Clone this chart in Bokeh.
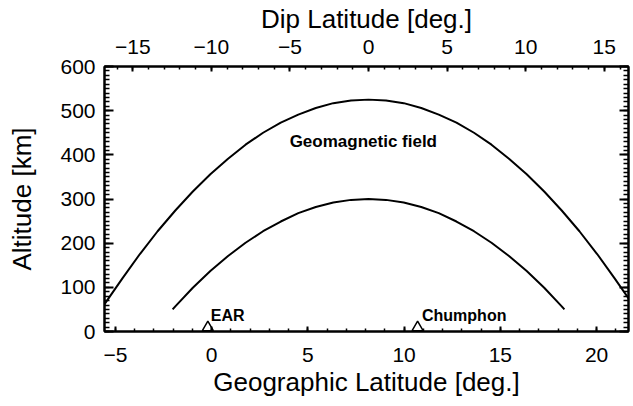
from bokeh.plotting import figure
from bokeh.models import Range1d, LinearAxis, SingleIntervalTicker, CustomJSTickFormatter, Label
from bokeh.embed import file_html
from bokeh.resources import INLINE

# Field line 1 (outer): geographic latitude [deg], altitude [km]
outer_lat = [-6.46, -5.55, -4.63, -3.72, -2.81, -1.89, -0.98, -0.07, 0.85, 1.76, 2.67,
             3.59, 4.50, 5.41, 6.32, 7.24, 8.15, 9.06, 9.98, 10.89, 11.80, 12.72,
             13.63, 14.54, 15.45, 16.37, 17.28, 18.19, 19.11, 20.02, 20.93, 21.85, 22.76]
outer_alt = [1, 63, 121, 176, 227, 274, 317, 356, 391, 423, 450,
             473, 491, 506, 517, 523, 525, 523, 517, 506, 491, 473,
             450, 423, 391, 356, 317, 274, 227, 176, 121, 63, 1]

# Field line 2 (inner)
inner_lat = [-2.03, -1.89, -0.98, -0.07, 0.85, 1.76, 2.67, 3.59, 4.50, 5.41, 6.32, 7.24,
             8.15, 9.06, 9.98, 10.89, 11.80, 12.72, 13.63, 14.54, 15.45, 16.37, 17.28, 18.19, 18.33]
inner_alt = [50, 57, 99, 137, 171, 201, 227, 249, 268, 282, 292, 298,
             300, 298, 292, 282, 268, 249, 227, 201, 171, 137, 99, 57, 50]

# Stations
station_names = ["EAR", "Chumphon"]
station_lat = [-0.2, 10.7]
station_alt = [9, 9]
station_label_lat = [-0.05, 10.93]
station_label_alt = [36, 36]

x_range = (-5.57, 21.66)
y_range = (0, 600)
dip_range = (-16.80, 16.54)

FONT = "Liberation Sans"

p = figure(width=633, height=406, x_range=Range1d(*x_range), y_range=Range1d(*y_range),
           output_backend="svg", toolbar_location=None,
           x_axis_location=None, y_axis_location=None,
           min_border_left=104, min_border_right=5, min_border_top=62, min_border_bottom=75)
p.extra_x_ranges = {"dip": Range1d(*dip_range)}
p.grid.visible = False
p.outline_line_color = "black"
p.outline_line_width = 2
p.background_fill_color = "white"
p.border_fill_color = "white"

minus_fmt = CustomJSTickFormatter(code="return tick < 0 ? '\u2212' + Math.abs(tick) : tick.toString();")
blank_fmt = CustomJSTickFormatter(code="return '';")

def style(ax, major_in, minor_in, label_size="21px", title_size="26px"):
    ax.major_tick_in = major_in
    ax.major_tick_out = 0
    ax.minor_tick_in = minor_in
    ax.minor_tick_out = 0
    ax.axis_line_width = 2
    ax.axis_line_color = "black"
    ax.major_tick_line_width = 2
    ax.minor_tick_line_width = 1.5
    ax.major_tick_line_color = "black"
    ax.minor_tick_line_color = "black"
    ax.major_label_text_font = FONT
    ax.major_label_text_font_size = label_size
    ax.major_label_text_color = "black"
    ax.axis_label_text_font = FONT
    ax.axis_label_text_font_size = title_size
    ax.axis_label_text_font_style = "normal"
    ax.axis_label_text_color = "black"

bottom = LinearAxis(ticker=SingleIntervalTicker(interval=5, num_minor_ticks=5),
                    formatter=minus_fmt, axis_label="Geographic Latitude [deg.]")
style(bottom, 5, 3)
bottom.major_label_standoff = 16
bottom.axis_label_standoff = 2
p.add_layout(bottom, "below")

top = LinearAxis(x_range_name="dip", ticker=SingleIntervalTicker(interval=5, num_minor_ticks=5),
                 formatter=minus_fmt, axis_label="Dip Latitude [deg.]")
style(top, 5, 3)
top.major_label_standoff = 13
top.axis_label_standoff = 3
p.add_layout(top, "above")

left = LinearAxis(ticker=SingleIntervalTicker(interval=100, num_minor_ticks=10),
                  formatter=minus_fmt, axis_label="Altitude [km]")
style(left, 9, 5)
left.major_label_standoff = 9
left.axis_label_standoff = 20
p.add_layout(left, "left")

right = LinearAxis(ticker=SingleIntervalTicker(interval=100, num_minor_ticks=10),
                   formatter=blank_fmt)
style(right, 9, 5)
right.major_label_standoff = 0
p.add_layout(right, "right")

p.line(outer_lat, outer_alt, line_color="black", line_width=2)
p.line(inner_lat, inner_alt, line_color="black", line_width=2)

p.scatter(station_lat, station_alt, marker="triangle", size=11,
          fill_color=None, line_color="black", line_width=1.5)

for name, lx, ly in zip(station_names, station_label_lat, station_label_alt):
    p.add_layout(Label(x=lx, y=ly, text=name, text_font=FONT, text_font_style="bold",
                       text_font_size="16px", text_baseline="middle", text_align="left",
                       text_color="black"))

p.add_layout(Label(x=7.88, y=430, text="Geomagnetic field", text_font=FONT,
                   text_font_style="bold", text_font_size="17px", text_baseline="middle",
                   text_align="center", text_color="black"))

open("out.html", "w").write(file_html(p, INLINE))
